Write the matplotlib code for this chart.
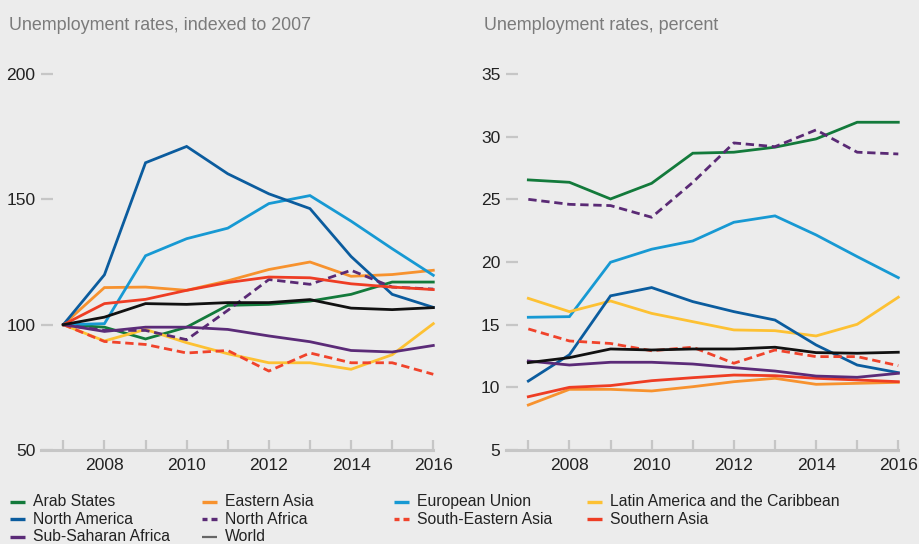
import numpy as np
import matplotlib
matplotlib.use("Agg")
import matplotlib.pyplot as plt
from matplotlib.lines import Line2D

# ---------------------------------------------------------------------------
# Data
# ---------------------------------------------------------------------------

years = [2007, 2008, 2009, 2010, 2011, 2012, 2013, 2014, 2015, 2016]

regions = ["Arab States", "Eastern Asia", "European Union",
           "Latin America and the Caribbean", "North America", "North Africa",
           "South-Eastern Asia", "Southern Asia", "Sub-Saharan Africa", "World"]

# indexed to 2007
idx_arab   = [100, 99.0, 94.3, 99.0, 107.7, 108.1, 109.4, 112.1, 117.0, 117.0]
idx_east   = [100, 114.8, 115.0, 113.7, 117.5, 122.0, 125.0, 119.3, 120.0, 121.7]
idx_eu     = [100, 100.4, 127.5, 134.3, 138.5, 148.3, 151.5, 141.3, 130.3, 119.7]
idx_latin  = [100, 93.5, 98.1, 92.8, 88.4, 84.8, 84.8, 82.2, 88.0, 100.4]
idx_namer  = [100, 119.9, 164.6, 171.1, 160.2, 152.2, 146.3, 127.2, 112.1, 106.9]
idx_nafr   = [100, 97.7, 97.7, 94.0, 105.7, 118.0, 116.1, 121.7, 115.0, 114.2]
idx_seasia = [100, 93.3, 92.1, 88.7, 89.7, 81.5, 88.7, 84.8, 84.8, 80.2]
idx_sasia  = [100, 108.4, 110.1, 113.7, 116.8, 119.0, 118.7, 116.3, 115.0, 114.0]
idx_ssafr  = [100, 97.3, 99.0, 99.0, 98.1, 95.5, 93.2, 89.7, 89.1, 91.7]
idx_world  = [100, 103.0, 108.4, 108.1, 108.8, 108.8, 110.0, 106.6, 106.0, 106.8]

# percent
pct_arab   = [26.55, 26.36, 25.03, 26.28, 28.68, 28.76, 29.16, 29.82, 31.15, 31.15]
pct_east   = [8.59, 9.84, 9.84, 9.71, 10.05, 10.45, 10.72, 10.24, 10.32, 10.40]
pct_eu     = [15.59, 15.64, 19.98, 21.02, 21.68, 23.17, 23.68, 22.16, 20.43, 18.75]
pct_latin  = [17.10, 16.04, 16.89, 15.90, 15.24, 14.58, 14.52, 14.10, 15.03, 17.19]
pct_namer  = [10.50, 12.60, 17.30, 17.96, 16.84, 16.04, 15.37, 13.38, 11.78, 11.17]
pct_nafr   = [25.00, 24.60, 24.50, 23.57, 26.35, 29.50, 29.20, 30.54, 28.76, 28.62]
pct_seasia = [14.66, 13.70, 13.50, 12.92, 13.20, 11.92, 12.98, 12.45, 12.45, 11.73]
pct_sasia  = [9.25, 10.00, 10.14, 10.53, 10.77, 10.98, 10.93, 10.72, 10.59, 10.45]
pct_ssafr  = [12.10, 11.78, 12.00, 12.00, 11.86, 11.57, 11.30, 10.90, 10.80, 11.12]
pct_world  = [11.97, 12.37, 13.06, 12.98, 13.06, 13.06, 13.20, 12.77, 12.72, 12.80]

indexed = [idx_arab, idx_east, idx_eu, idx_latin, idx_namer,
           idx_nafr, idx_seasia, idx_sasia, idx_ssafr, idx_world]
percent = [pct_arab, pct_east, pct_eu, pct_latin, pct_namer,
           pct_nafr, pct_seasia, pct_sasia, pct_ssafr, pct_world]

# ---------------------------------------------------------------------------
# Styling
# ---------------------------------------------------------------------------

colors = ["#137a3b", "#f7922e", "#1799d3", "#fdc133", "#0b5c9e",
          "#5a2a75", "#f0432b", "#ee3d24", "#5b2b78", "#111111"]
dashed = [False, False, False, False, False, True, True, False, False, False]

BG = "#ececec"
AXC = "#c6c6c6"
FONT = "Liberation Sans"
TICK_FS, LEG_FS = 12.6, 11.3

fig = plt.figure(figsize=(9.2, 5.44), dpi=100, facecolor=BG)

ax1 = fig.add_axes([41 / 920, 94 / 544, 392.3 / 920, 376 / 544])
ax2 = fig.add_axes([506 / 920, 94 / 544, 392.3 / 920, 376 / 544])


def style_axis(ax, ylim, yticks):
    ax.set_facecolor(BG)
    ax.set_xlim(2006.457, 2016)
    ax.set_ylim(*ylim)
    for s in ["top", "right", "left"]:
        ax.spines[s].set_visible(False)
    ax.spines["bottom"].set_color(AXC)
    ax.spines["bottom"].set_linewidth(2.2)
    ax.set_xticks(years)
    ax.set_xticklabels([str(y) if y % 2 == 0 else "" for y in years])
    ax.set_yticks(yticks)
    ax.tick_params(axis="x", direction="in", length=7.5, width=1.6, color=AXC,
                   pad=6, labelsize=TICK_FS, labelcolor="#222222")
    ax.tick_params(axis="y", direction="in", length=8.5, width=1.6, color=AXC,
                   pad=4, labelsize=TICK_FS, labelcolor="#222222")
    for lab in ax.get_xticklabels() + ax.get_yticklabels():
        lab.set_family(FONT)


for ax, series in [(ax1, indexed), (ax2, percent)]:
    for vals, c, d in zip(series, colors, dashed):
        ls = (0, (3.0, 1.7)) if d else "-"
        ax.plot(years, vals, color=c, lw=2.0, ls=ls, solid_joinstyle="miter",
                clip_on=False, zorder=3)

style_axis(ax1, (50, 200), [50, 100, 150, 200])
style_axis(ax2, (5, 35), [5, 10, 15, 20, 25, 30, 35])

fig.text(9 / 920, 1 - 30 / 544, "Unemployment rates, indexed to 2007",
         fontsize=12.9, color="#7b7b7b", family=FONT, va="baseline")
fig.text(484 / 920, 1 - 30 / 544, "Unemployment rates, percent",
         fontsize=12.9, color="#7b7b7b", family=FONT, va="baseline")

# ---------------------------------------------------------------------------
# Legend (row-wise, 4 columns)
# ---------------------------------------------------------------------------

col_x = [10, 202, 394, 587]
row_y = [501.5, 519.3, 536.5]
legend_colors = list(colors)
legend_colors[-1] = "#666666"
for i, (name, c, d) in enumerate(zip(regions, legend_colors, dashed)):
    r, k = divmod(i, 4)
    x0, y0 = col_x[k], row_y[r]
    yf = 1 - y0 / 544
    if d:
        for a, b in [(x0, x0 + 5.5), (x0 + 9.5, x0 + 15)]:
            fig.add_artist(Line2D([a / 920, b / 920], [yf, yf], color=c, lw=2.4,
                                  solid_capstyle="butt"))
    else:
        fig.add_artist(Line2D([x0 / 920, (x0 + 15) / 920], [yf, yf], color=c,
                              lw=2.4 if name != "World" else 1.6,
                              solid_capstyle="butt"))
    fig.text((x0 + 23) / 920, yf, name, color="#222222", va="center",
             family=FONT, fontsize=LEG_FS)

fig.savefig("out.png", dpi=100, facecolor=BG)
